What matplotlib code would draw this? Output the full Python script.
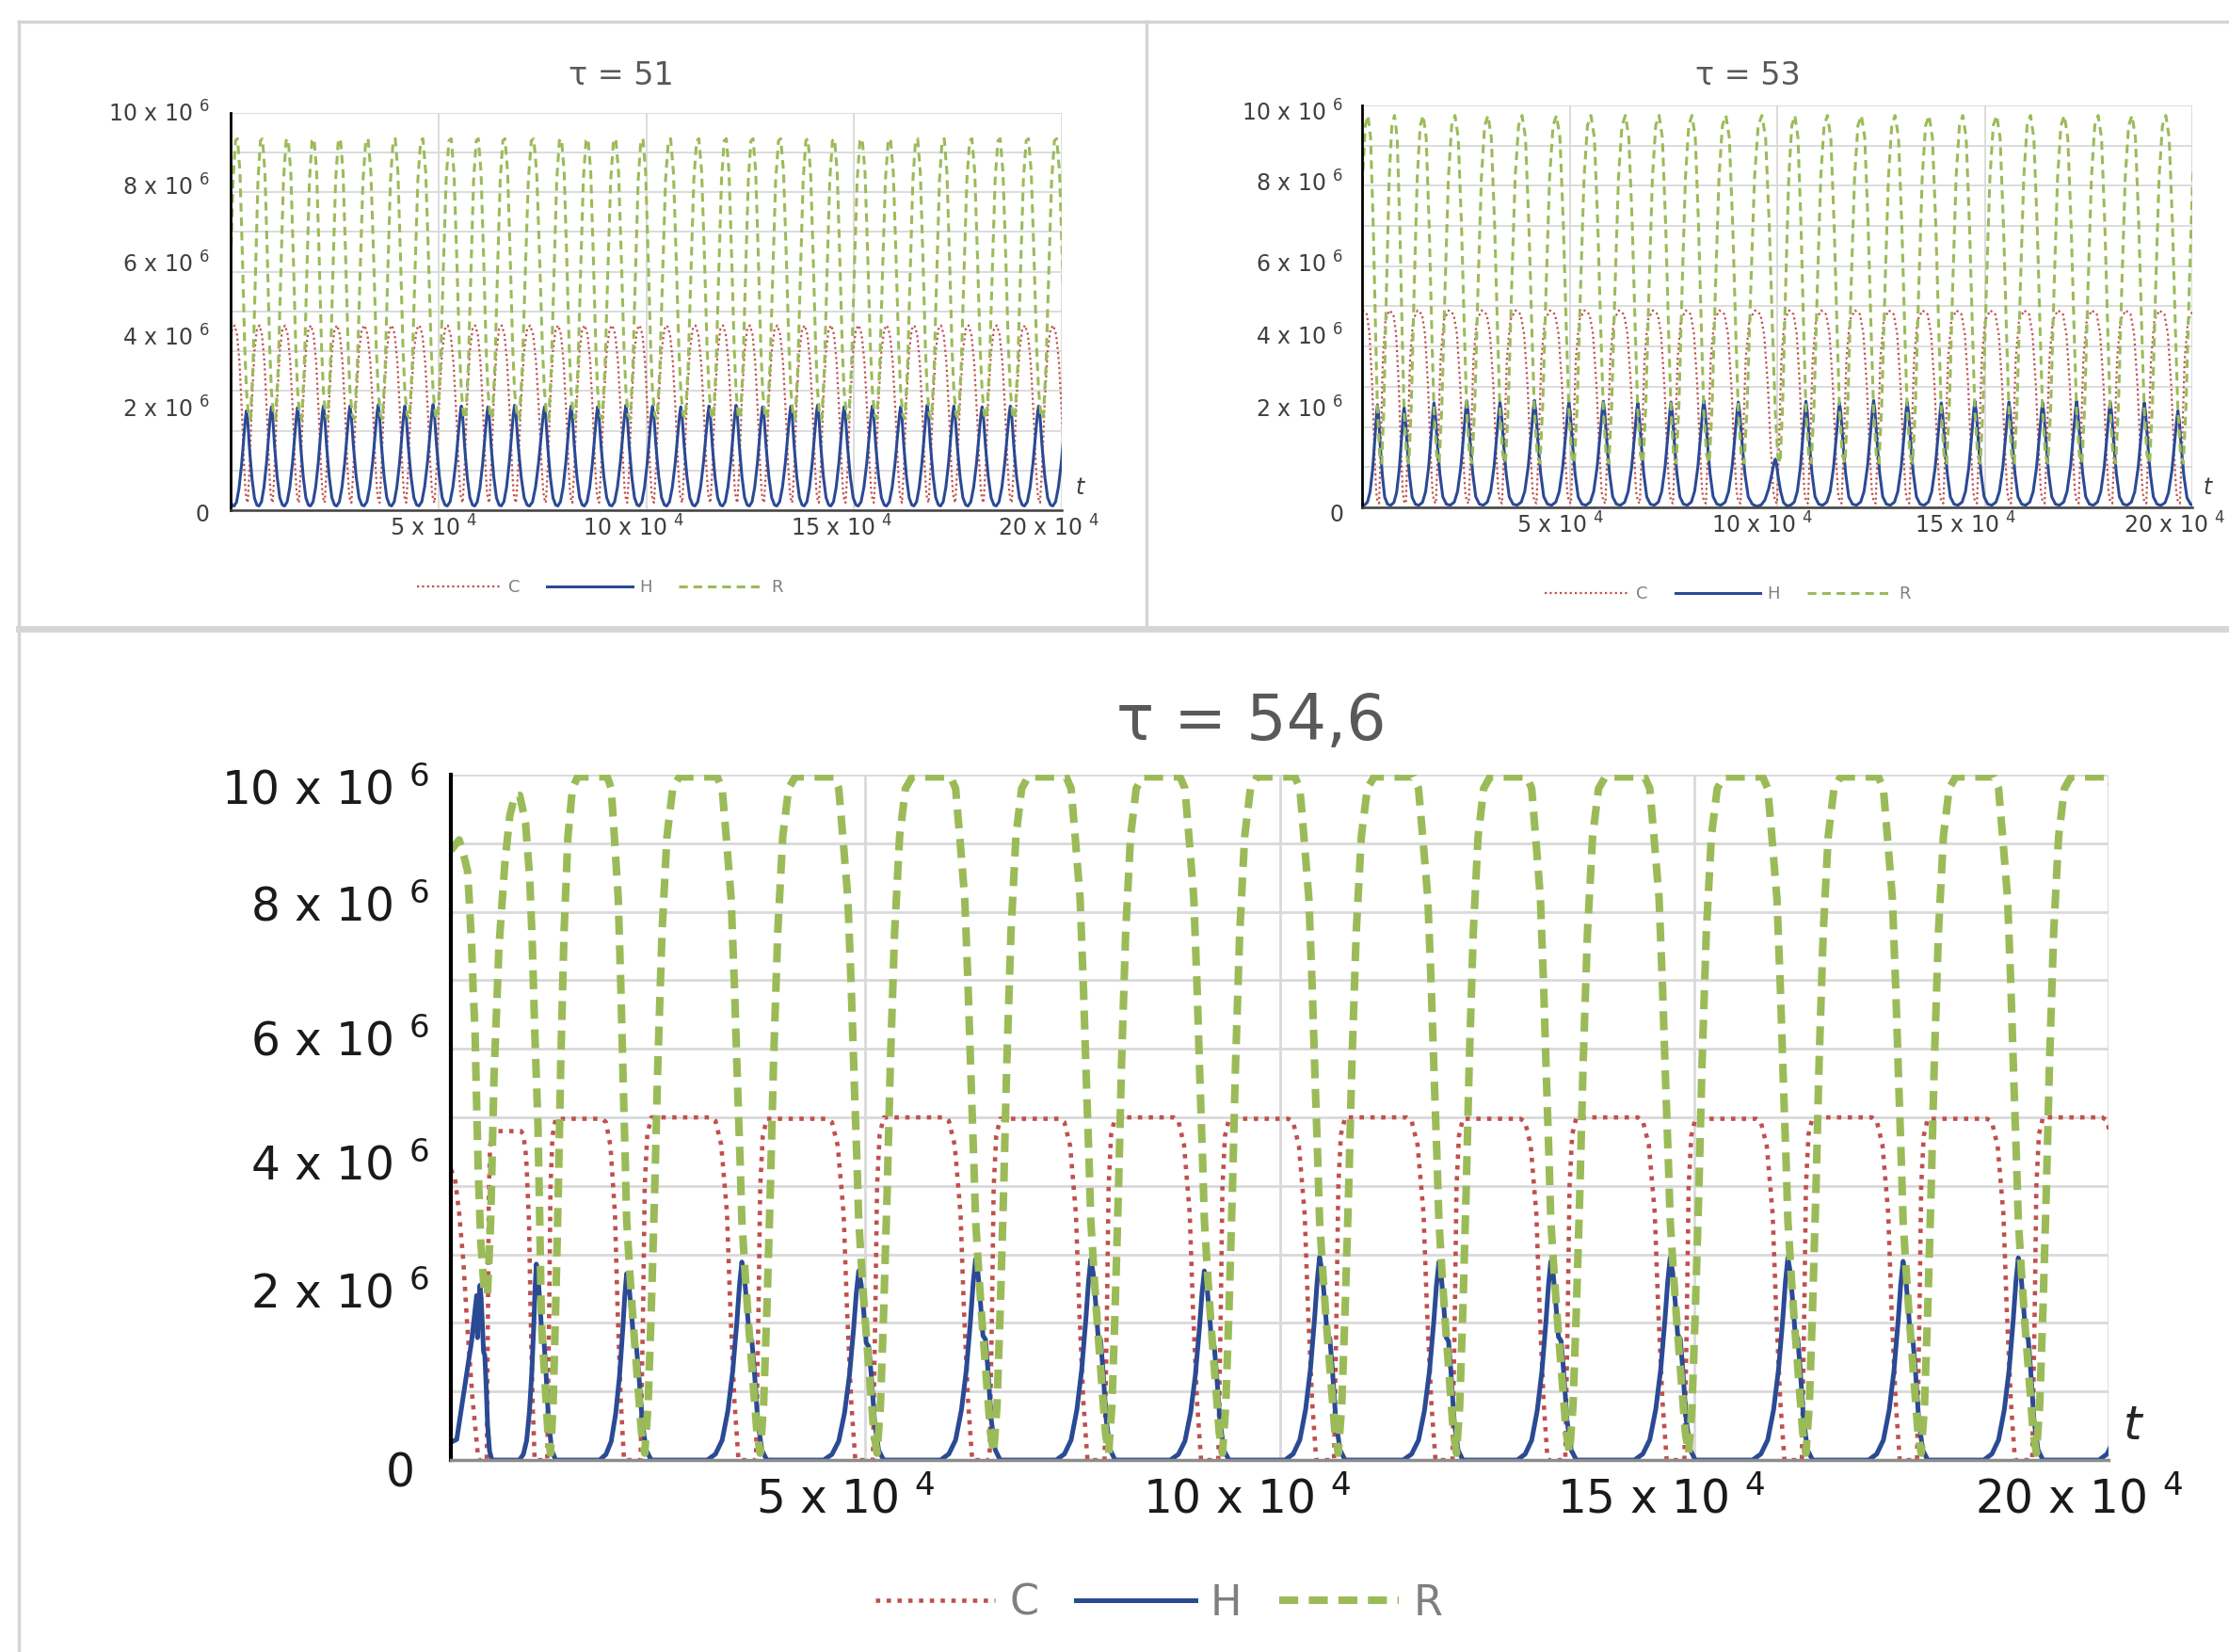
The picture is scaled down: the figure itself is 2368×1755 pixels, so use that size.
#!/usr/bin/env python3
# -*- coding: utf-8 -*-
"""
Tre pannelli: andamento di C, H, R nel tempo per tau = 51, 53, 54,6.
"""

import numpy as np
import matplotlib.pyplot as plt
from matplotlib.lines import Line2D
from matplotlib.transforms import ScaledTranslation

plt.rcParams['font.family'] = ['DejaVu Sans']
plt.rcParams['mathtext.default'] = 'regular'

# ---------------------------------------------------------------
# Dati: tempo in unita' di 10^4, valori in 10^6
# ---------------------------------------------------------------

# tau = 51 : istanti dei picchi di H e loro altezza
h_peak_51 = [0.38, 0.98, 1.61, 2.23, 2.87, 3.55, 4.19, 4.87, 5.55, 6.19,
             6.83, 7.55, 8.19, 8.83, 9.51, 10.15, 10.83, 11.51, 12.16, 12.80,
             13.48, 14.12, 14.76, 15.44, 16.12, 16.76, 17.40, 18.08, 18.76, 19.44]
h_amp_51 = [2.50, 2.60, 2.58, 2.62, 2.62, 2.65, 2.62, 2.66, 2.62, 2.60,
            2.64, 2.60, 2.62, 2.60, 2.64, 2.62, 2.60, 2.62, 2.64, 2.60,
            2.62, 2.64, 2.60, 2.62, 2.60, 2.64, 2.62, 2.60, 2.62, 2.62]
c_top_51 = 4.65

# tau = 53
h_peak_53 = [0.37, 1.01, 1.73, 2.52, 3.32, 4.15, 4.98, 5.81, 6.64, 7.44,
             8.23, 9.06, 9.95, 10.69, 11.50, 12.32, 13.13, 13.95, 14.76, 15.58,
             16.39, 17.21, 18.02, 18.84, 19.65]
h_amp_53 = [2.55, 2.50, 2.60, 2.65, 2.62, 2.66, 2.62, 2.64, 2.60, 2.62,
            2.66, 2.62, 1.20, 2.64, 2.60, 2.66, 2.62, 2.60, 2.64, 2.62,
            2.60, 2.64, 2.62, 2.60, 2.40]
c_top_53 = 4.90

# tau = 54,6
h_peak_546 = [0.35, 1.03, 2.12, 3.51, 4.92, 6.33, 7.72, 9.09, 10.48, 11.92,
              13.27, 14.71, 16.13, 17.52, 18.91]
h_amp_546 = [2.55, 2.86, 2.72, 2.89, 2.76, 2.93, 2.93, 2.76, 2.96, 2.89,
             2.90, 2.95, 2.95, 2.90, 2.95]
c_top_546 = [4.80, 4.80, 4.98, 5.00, 4.98, 5.00, 4.98, 5.00, 4.98, 5.00,
             4.98, 5.00, 4.98, 5.00, 4.98, 5.00]

# forma di un ciclo (fase tra due picchi di H consecutivi)
h_ph_51 = [-0.50, -0.40, -0.30, -0.20, -0.10, -0.04, 0.0, 0.05, 0.12, 0.22, 0.32, 0.42]
h_fr_51 = [0.04, 0.08, 0.22, 0.45, 0.75, 0.93, 1.0, 0.90, 0.62, 0.32, 0.12, 0.05]
c_ph_51 = [0.0, 0.05, 0.12, 0.22, 0.32, 0.42, 0.52, 0.62, 0.72, 0.82, 0.90, 0.96]
c_fr_51 = [0.06, 0.04, 0.22, 0.60, 0.86, 0.98, 1.0, 0.95, 0.80, 0.52, 0.25, 0.10]
r_ph_51 = [0.0, 0.08, 0.16, 0.26, 0.36, 0.46, 0.56, 0.64, 0.74, 0.84, 0.93]
r_val_51 = [3.0, 2.4, 2.3, 3.6, 6.0, 8.3, 9.3, 9.35, 8.5, 6.3, 4.1]

h_ph_53 = [-0.50, -0.38, -0.28, -0.18, -0.09, -0.03, 0.0, 0.04, 0.10, 0.18, 0.27, 0.38]
h_fr_53 = [0.02, 0.05, 0.15, 0.38, 0.70, 0.93, 1.0, 0.90, 0.62, 0.32, 0.10, 0.03]
c_ph_53 = [0.0, 0.06, 0.12, 0.20, 0.30, 0.45, 0.60, 0.70, 0.80, 0.88, 0.95]
c_fr_53 = [0.03, 0.02, 0.30, 0.75, 0.95, 1.0, 0.98, 0.88, 0.62, 0.30, 0.08]
r_ph_53 = [0.0, 0.08, 0.16, 0.24, 0.34, 0.44, 0.54, 0.64, 0.74, 0.84, 0.93]
r_val_53 = [2.4, 1.3, 1.1, 2.5, 5.5, 8.2, 9.5, 9.75, 9.2, 7.0, 4.3]

h_ph_546 = [-0.300, -0.229, -0.171, -0.121, -0.079, -0.043, -0.021, 0.0,
            0.021, 0.043, 0.064, 0.086, 0.107, 0.136, 0.171, 0.214]
h_fr_546 = [0.0, 0.03, 0.10, 0.25, 0.45, 0.70, 0.88, 1.0,
            0.93, 0.78, 0.62, 0.60, 0.45, 0.20, 0.05, 0.0]
c_ph_546 = [0.0, 0.121, 0.143, 0.157, 0.179, 0.214, 0.729, 0.771, 0.821, 0.871, 0.900, 0.936, 0.971]
c_fr_546 = [0.0, 0.0, 0.45, 0.80, 0.95, 1.0, 1.0, 0.99, 0.92, 0.72, 0.44, 0.17, 0.0]
r_ph_546 = [0.0, 0.029, 0.057, 0.093, 0.129, 0.157, 0.186, 0.214, 0.243, 0.271, 0.307,
            0.350, 0.400, 0.457, 0.786, 0.829, 0.864, 0.907, 0.936, 0.964, 0.986]
r_val_546 = [3.5, 2.7, 2.0, 1.2, 0.4, 0.1, 0.8, 2.2, 3.9, 5.8, 7.7,
             9.1, 9.8, 9.97, 9.97, 9.8, 9.1, 8.2, 6.9, 5.4, 4.3]

# tratto iniziale (transitorio) di tau = 54,6
h_head_t_546 = [0.0, 0.07, 0.14, 0.25, 0.31]
h_head_v_546 = [0.26, 0.30, 0.86, 1.74, 2.40]
c_head_t_546 = [0.0, 0.05, 0.10, 0.15, 0.20, 0.26, 0.33]
c_head_v_546 = [4.24, 4.10, 3.60, 2.90, 1.90, 0.90, 0.02]
r_head_t_546 = [0.0, 0.10, 0.16, 0.20, 0.22, 0.25, 0.27, 0.29, 0.31, 0.33, 0.36, 0.40,
                0.44, 0.48, 0.52, 0.58, 0.65, 0.71, 0.77, 0.83, 0.90, 0.95, 0.98,
                1.01, 1.05, 1.07]
r_head_v_546 = [8.9, 9.05, 8.8, 8.6, 8.2, 7.5, 6.8, 6.3, 5.2, 4.2, 3.2, 2.5,
                2.4, 3.5, 5.6, 7.5, 8.7, 9.4, 9.7, 9.7, 9.3, 8.5, 7.6,
                6.3, 4.9, 3.6]

y_labels = ['0', '2 x 10 $^6$', '4 x 10 $^6$', '6 x 10 $^6$', '8 x 10 $^6$', '10 x 10 $^6$']
x_labels = ['5 x 10 $^4$', '10 x 10 $^4$', '15 x 10 $^4$', '20 x 10 $^4$']
series_names = ['C', 'H', 'R']


def pulse_series(peaks, amps, ph, fr):
    # impulso di H centrato su ogni picco (piu' un picco fittizio prima e dopo)
    p = np.r_[2 * peaks[0] - peaks[1], peaks, 2 * peaks[-1] - peaks[-2]]
    a = np.r_[amps[0], amps, amps[-1]]
    gaps = np.diff(p)
    t, v = [], []
    for k in range(len(p)):
        before = gaps[k - 1] if k > 0 else gaps[0]
        after = gaps[k] if k < len(gaps) else gaps[-1]
        for q, f in zip(ph, fr):
            t.append(p[k] + q * (before if q < 0 else after))
            v.append(f * a[k])
    return np.array(t), np.array(v)


def cycle_series(peaks, ph, val, scale=1.0):
    # un ciclo per ogni intervallo tra picchi di H
    p = np.r_[2 * peaks[0] - peaks[1], peaks, 2 * peaks[-1] - peaks[-2]]
    scale = np.broadcast_to(np.asarray(scale, dtype=float), (len(p) - 1,))
    t, v = [], []
    for k in range(len(p) - 1):
        for q, y in zip(ph, val):
            t.append(p[k] + q * (p[k + 1] - p[k]))
            v.append(y * scale[k])
    return np.array(t), np.array(v)


def with_head(t, v, head_t, head_v):
    keep = t > head_t[-1]
    return np.r_[head_t, t[keep]], np.r_[head_v, v[keep]]


def style_axes(ax, big, y_dy, x_dx, y_pad, x_pad, fs):
    ax.set_xlim(0, 20)
    ax.set_ylim(0, 10)
    ax.set_yticks([0, 2, 4, 6, 8, 10])
    ax.set_yticks([1, 3, 5, 7, 9], minor=True)
    ax.set_xticks([5, 10, 15, 20])
    ax.set_yticklabels(y_labels)
    ax.set_xticklabels(x_labels)
    lab_col = '#1a1a1a' if big else '#404040'
    ax.tick_params(axis='both', which='both', length=0, labelsize=fs, labelcolor=lab_col)
    ax.tick_params(axis='y', pad=y_pad)
    ax.tick_params(axis='x', pad=x_pad)
    ax.grid(True, which='both', axis='y', color='#d9d9d9', lw=2.0 if big else 1.3)
    ax.grid(True, which='major', axis='x', color='#d9d9d9', lw=2.0 if big else 1.3)
    ax.set_axisbelow(True)
    for s in ['top', 'right']:
        ax.spines[s].set_visible(False)
    ax.spines['left'].set_color('black')
    ax.spines['left'].set_linewidth(3.0 if big else 2.0)
    ax.spines['bottom'].set_color('#8c8c8c' if big else '#404040')
    ax.spines['bottom'].set_linewidth(2.5 if big else 1.8)
    ax.spines['left'].set_zorder(5)
    ax.spines['bottom'].set_zorder(5)
    # piccoli spostamenti delle etichette come nell'originale
    for lab, (dx, dy) in zip(ax.get_yticklabels(), y_dy):
        lab.set_transform(lab.get_transform() + ScaledTranslation(dx / 100, dy / 100, fig.dpi_scale_trans))
    for lab, dx in zip(ax.get_xticklabels(), x_dx):
        lab.set_transform(lab.get_transform() + ScaledTranslation(dx / 100, 0, fig.dpi_scale_trans))


def draw_panel(ax, h, c, r, big):
    if big:
        sty_c = dict(color='#c0504d', lw=3.3, ls=(0, (1, 1.5)))
        sty_h = dict(color='#2b4a94', lw=3.6, ls='-')
        sty_r = dict(color='#9bbb59', lw=5.8, ls=(0, (2.5, 1.4)))
    else:
        sty_c = dict(color='#c0504d', lw=1.6, ls=(0, (1, 1.4)))
        sty_h = dict(color='#2b4a94', lw=2.2, ls='-')
        sty_r = dict(color='#9bbb59', lw=2.2, ls=(0, (3, 2)))
    ax.plot(*c, **sty_c, zorder=2)
    ax.plot(*h, **sty_h, zorder=3)
    ax.plot(*r, **sty_r, zorder=4)
    return [Line2D([], [], **sty_c), Line2D([], [], **sty_h), Line2D([], [], **sty_r)]


fig = plt.figure(figsize=(23.68, 17.55), dpi=100)

# cornici dei pannelli
frame = dict(color='#d4d4d4', lw=2.5, transform=fig.transFigure)
fig.add_artist(Line2D([0.0084, 1.0], [0.9869, 0.9869], **frame))
fig.add_artist(Line2D([0.0084, 0.0084], [0.0, 0.9869], **frame))
fig.add_artist(Line2D([0.5144, 0.5144], [0.62, 0.9869], **frame))
fig.add_artist(Line2D([0.0084, 1.0], [0.6191, 0.6191], color='#d6d6d6', lw=5, transform=fig.transFigure))

leg_small = dict(loc='center', ncol=3, frameon=False, fontsize=13, handlelength=5.0,
                 handletextpad=0.4, columnspacing=1.6, labelcolor='#7f7f7f')

# --- tau = 51 ---
ax1 = fig.add_axes([0.1035, 0.6912, 0.3729, 0.2405])
h1 = pulse_series(h_peak_51, h_amp_51, h_ph_51, h_fr_51)
c1 = cycle_series(h_peak_51, c_ph_51, c_fr_51, c_top_51)
r1 = cycle_series(h_peak_51, r_ph_51, r_val_51)
hand1 = draw_panel(ax1, h1, c1, r1, big=False)
style_axes(ax1, False, [(0, -3), (0, 25), (0, 17), (0, 10), (0, 8), (0, 1)],
           [-5, -13, -13, -14], 16, 4, 17)
ax1.text(1.022, 0.057, 't', transform=ax1.transAxes, style='italic', fontsize=17,
         color='#404040', ha='center', va='center')
fig.text(0.2787, 0.9544, 'τ = 51', ha='center', va='center', fontsize=24, color='#595959')
fig.legend(hand1, series_names, bbox_to_anchor=(0.269, 0.6444), **leg_small)

# --- tau = 53 ---
ax2 = fig.add_axes([0.6111, 0.6929, 0.3725, 0.2433])
h2 = pulse_series(h_peak_53, h_amp_53, h_ph_53, h_fr_53)
c2 = cycle_series(h_peak_53, c_ph_53, c_fr_53, c_top_53)
r2 = cycle_series(h_peak_53, r_ph_53, r_val_53)
hand2 = draw_panel(ax2, h2, c2, r2, big=False)
style_axes(ax2, False, [(0, -6), (0, 21), (0, 13), (0, 4), (0, 5), (0, -6)],
           [-10, -16, -20, -19], 14, 4, 17)
ax2.text(1.018, 0.049, 't', transform=ax2.transAxes, style='italic', fontsize=17,
         color='#404040', ha='center', va='center')
fig.text(0.7842, 0.9544, 'τ = 53', ha='center', va='center', fontsize=24, color='#595959')
fig.legend(hand2, series_names, bbox_to_anchor=(0.775, 0.6405), **leg_small)

# --- tau = 54,6 ---
ax3 = fig.add_axes([0.2023, 0.1162, 0.7437, 0.4148])
h3 = with_head(*pulse_series(h_peak_546, h_amp_546, h_ph_546, h_fr_546), h_head_t_546, h_head_v_546)
c3 = with_head(*cycle_series(h_peak_546, c_ph_546, c_fr_546, c_top_546), c_head_t_546, c_head_v_546)
r3 = with_head(*cycle_series(h_peak_546, r_ph_546, r_val_546), r_head_t_546, r_head_v_546)
hand3 = draw_panel(ax3, h3, c3, r3, big=True)
style_axes(ax3, True, [(-15, -9), (0, 35), (0, 26), (0, 12), (0, 10), (0, -12)],
           [-21, -35, -35, -32], 17, 13, 35)
ax3.text(1.0142, 0.049, 't', transform=ax3.transAxes, style='italic', fontsize=36,
         color='#262626', ha='center', va='center')
fig.text(0.5612, 0.563, 'τ = 54,6', ha='center', va='center', fontsize=48, color='#595959')
fig.legend(hand3, series_names, loc='center', bbox_to_anchor=(0.5199, 0.0296), ncol=3,
           frameon=False, fontsize=32, handlelength=2.85, handletextpad=0.35,
           columnspacing=0.9, labelcolor='#7f7f7f')

fig.savefig('out.png', dpi=100, facecolor='white')
